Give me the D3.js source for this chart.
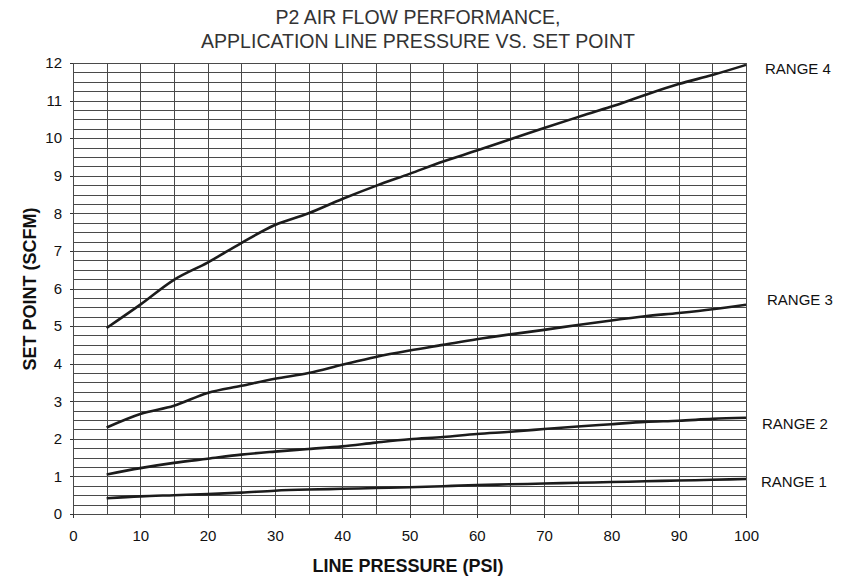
<!DOCTYPE html>
<html lang="en">
    <head>
        <meta charset="utf-8">
        <title>P2 Air Flow Performance</title>
        <script type="text/javascript" src="https://cdn.jsdelivr.net/npm/d3@7"></script>
        <style>
        body { margin: 0; background: #fff; }
        svg { font-family: "Liberation Sans", Arial, sans-serif; }
        .grid line { stroke: #4a4a4a; stroke-width: 1; shape-rendering: crispEdges; }
        .grid path { display: none; }
        .axis path { display: none; }
        .axis line { stroke: #333; shape-rendering: crispEdges; }
        .axis text { font-size: 15px; fill: #111; }
        </style>
    </head>
    <body>
        <script type="text/javascript">

            // line pressure (psi) sampled along each curve
            var pressure = [5, 10, 15, 20, 25, 30, 35, 40, 45, 50, 55, 60, 65, 70, 75, 80, 85, 90, 95, 100];

            // set point (scfm)
            var range1 = [0.42, 0.47, 0.50, 0.53, 0.57, 0.62, 0.65, 0.67, 0.69, 0.71, 0.74, 0.77, 0.79, 0.81, 0.83, 0.85, 0.87, 0.89, 0.91, 0.93];
            var range2 = [1.05, 1.22, 1.36, 1.47, 1.58, 1.66, 1.73, 1.80, 1.90, 1.99, 2.05, 2.13, 2.19, 2.26, 2.33, 2.39, 2.45, 2.48, 2.53, 2.56];
            var range3 = [2.30, 2.66, 2.88, 3.22, 3.41, 3.60, 3.75, 3.97, 4.18, 4.35, 4.50, 4.65, 4.78, 4.90, 5.03, 5.15, 5.26, 5.35, 5.45, 5.57];
            var range4 = [4.95, 5.57, 6.23, 6.69, 7.21, 7.69, 8.00, 8.38, 8.73, 9.05, 9.38, 9.67, 9.97, 10.27, 10.56, 10.84, 11.15, 11.44, 11.68, 11.95];

            var rangeNames = ["RANGE 1", "RANGE 2", "RANGE 3", "RANGE 4"];
            var xTicks = [0, 10, 20, 30, 40, 50, 60, 70, 80, 90, 100];
            var yTicks = [0, 1, 2, 3, 4, 5, 6, 7, 8, 9, 10, 11, 12];

            var w = 846;
            var h = 577;
            // plot box (window.top is read-only, so keep these in an object)
            var plot = { left: 73, right: 746, top: 63, bottom: 514 };

            var svg = d3.select("body")
                        .append("svg")
                        .attr("width", w)
                        .attr("height", h);

            var x = d3.scaleLinear().domain([0, 100]).range([plot.left, plot.right]);
            var y = d3.scaleLinear().domain([0, 12]).range([plot.bottom, plot.top]);

            // fine grid: every 5 psi and every 0.25 scfm
            svg.append("g")
                .attr("class", "grid")
                .attr("transform", "translate(0," + plot.bottom + ")")
                .call(d3.axisBottom(x).tickValues(d3.range(0, 101, 5)).tickSize(-(plot.bottom - plot.top)).tickFormat(""));

            svg.append("g")
                .attr("class", "grid")
                .attr("transform", "translate(" + plot.left + ",0)")
                .call(d3.axisLeft(y).tickValues(d3.range(0, 12.001, 0.25)).tickSize(-(plot.right - plot.left)).tickFormat(""));

            // labelled axes with short outside ticks
            svg.append("g")
                .attr("class", "axis")
                .attr("transform", "translate(0," + plot.bottom + ")")
                .call(d3.axisBottom(x).tickValues(xTicks).tickSize(4).tickPadding(12));

            svg.append("g")
                .attr("class", "axis")
                .attr("transform", "translate(" + plot.left + ",0)")
                .call(d3.axisLeft(y).tickValues(yTicks).tickSize(3).tickPadding(8));

            var series = [range1, range2, range3, range4];

            var line = d3.line()
                .x(function(d, i) { return x(pressure[i]); })
                .y(function(d) { return y(d); })
                .curve(d3.curveMonotoneX);

            svg.selectAll("path.curve")
                .data(series)
                .enter()
                .append("path")
                .attr("class", "curve")
                .attr("d", line)
                .attr("fill", "none")
                .attr("stroke", "#1c1c1c")
                .attr("stroke-width", 2.6);

            // range labels right of the plot, nudged like the original
            var labelDx = [15, 16, 21, 19];
            var labelDy = [8, 11, 0, 9];
            svg.selectAll("text.range")
                .data(series)
                .enter()
                .append("text")
                .attr("class", "range")
                .text(function(d, i) { return rangeNames[i]; })
                .attr("x", function(d, i) { return plot.right + labelDx[i]; })
                .attr("y", function(d, i) { return y(d[d.length - 1]) + labelDy[i]; })
                .attr("font-size", "15px")
                .attr("fill", "#111");

            svg.append("text")
                .attr("x", 418).attr("y", 24)
                .attr("text-anchor", "middle")
                .attr("font-size", "19.5px")
                .attr("fill", "#333")
                .text("P2 AIR FLOW PERFORMANCE,");

            svg.append("text")
                .attr("x", 418).attr("y", 48)
                .attr("text-anchor", "middle")
                .attr("font-size", "19.5px")
                .attr("fill", "#333")
                .text("APPLICATION LINE PRESSURE VS. SET POINT");

            svg.append("text")
                .attr("x", 408).attr("y", 572)
                .attr("text-anchor", "middle")
                .attr("font-size", "18px")
                .attr("font-weight", "bold")
                .attr("fill", "#111")
                .text("LINE PRESSURE (PSI)");

            svg.append("text")
                .attr("transform", "translate(36,289) rotate(-90)")
                .attr("text-anchor", "middle")
                .attr("font-size", "18px")
                .attr("font-weight", "bold")
                .attr("fill", "#111")
                .text("SET POINT (SCFM)");

        </script>
    </body>
</html>
